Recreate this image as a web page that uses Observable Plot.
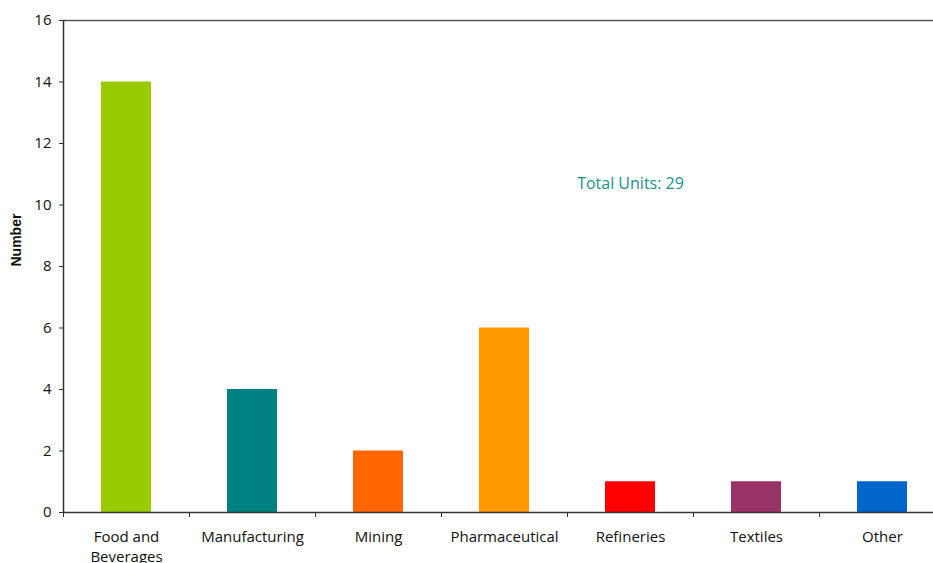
<!DOCTYPE html>
<html>
<head>
<meta charset="utf-8">
<script src="https://cdn.jsdelivr.net/npm/d3@7"></script>
<script src="https://cdn.jsdelivr.net/npm/@observablehq/plot@0.6"></script>
<style>
  html, body { margin: 0; padding: 0; background: #fff; overflow: hidden; }
  #chart { width: 933px; height: 563px; overflow: hidden; }
</style>
</head>
<body>
<div id="chart"></div>
<script>
const categories = ["Food and\nBeverages", "Manufacturing", "Mining", "Pharmaceutical", "Refineries", "Textiles", "Other"];
const values = [14, 4, 2, 6, 1, 1, 1];
const colors = ["#99CC00", "#008080", "#FF6600", "#FF9900", "#FF0000", "#993366", "#0066CC"];
const yTicks = [0, 2, 4, 6, 8, 10, 12, 14, 16];
const annotationText = "Total Units: 29";
const annotationCategory = "Refineries";
const annotationValue = 10.7;

const data = categories.map((c, i) => ({category: c, value: values[i], color: colors[i]}));

const font = "'Open Sans', 'Noto Sans', sans-serif";

const chart = Plot.plot({
  width: 933,
  height: 563,
  marginLeft: 63,
  marginTop: 20,
  marginBottom: 51,
  marginRight: 0,
  style: {fontFamily: font, fontSize: "14px", color: "#111", background: "#fff", overflow: "hidden"},
  x: {domain: categories, range: [63, 945], paddingInner: 0.6, paddingOuter: 0.3, label: null},
  y: {domain: [0, 16], label: null},
  marks: [
    Plot.barY(data, {x: "category", y: "value", fill: "color"}),
    Plot.ruleY([0], {stroke: "#333", strokeWidth: 1.5}),
    Plot.ruleY([16], {stroke: "#555", strokeWidth: 1.5}),
    Plot.axisY({ticks: yTicks, tickSize: 4, tickPadding: 8, stroke: "#333", fontSize: 15, fill: "#111", label: null}),
    Plot.ruleX([0], {x: () => categories[0], dx: -63, y1: 0, y2: 16, stroke: "#333", strokeWidth: 1.5}),
    Plot.axisX({tickSize: 5, dx: -63, tickFormat: () => "", stroke: "#333", label: null}),
    Plot.axisX({tickSize: 0, tickPadding: 15, fontSize: 15, fill: "#111", lineHeight: 1.35, label: null, lineAnchor: "top"}),
    Plot.text([annotationText], {x: () => annotationCategory, y: () => annotationValue, text: d => d, fill: "#1A9090", fontSize: 16}),
    Plot.text(["Number"], {frameAnchor: "left", dx: -47, rotate: -90, text: d => d, fontSize: 14, fontWeight: "bold", fontFamily: "'Liberation Sans', Arial, sans-serif", fill: "#111"})
  ]
});
document.getElementById("chart").appendChild(chart);
</script>
</body>
</html>
